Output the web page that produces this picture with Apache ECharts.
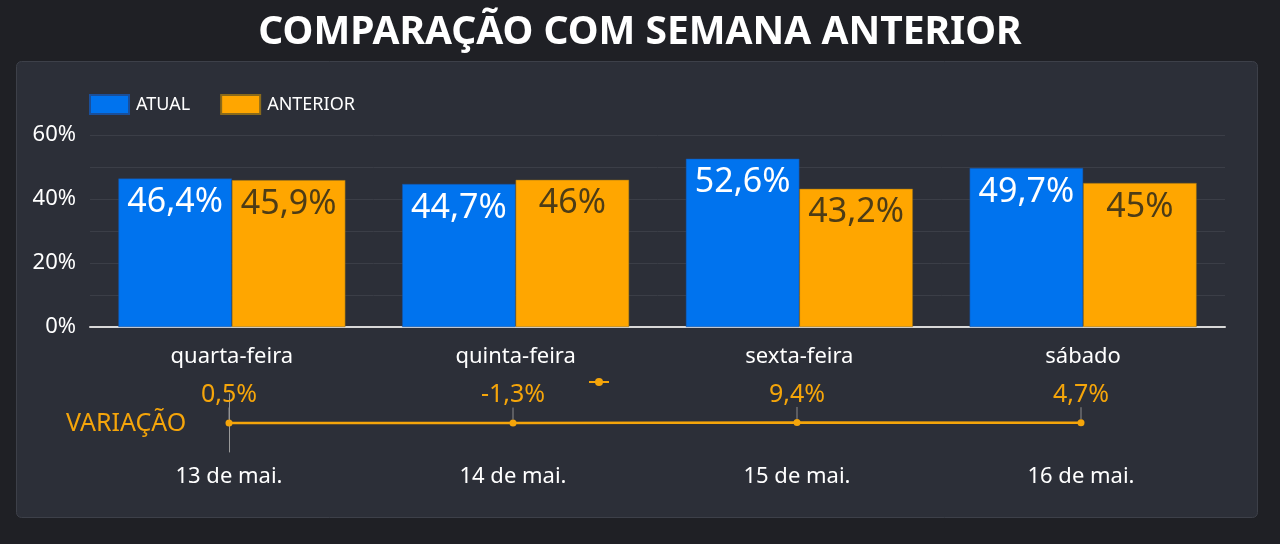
<!DOCTYPE html>
<html>
<head>
<meta charset="utf-8">
<script src="https://cdn.jsdelivr.net/npm/echarts@6/dist/echarts.min.js"></script>
<style>
  html, body { margin: 0; padding: 0; background: #1f2025; }
  #chart { width: 1280px; height: 544px; }
</style>
</head>
<body>
<div id="chart"></div>
<script>
var dias = ['quarta-feira', 'quinta-feira', 'sexta-feira', 'sábado'];
var datas = ['13 de mai.', '14 de mai.', '15 de mai.', '16 de mai.'];
var atual = [46.4, 44.7, 52.6, 49.7];
var anterior = [45.9, 46, 43.2, 45];
var variacao = [0.5, -1.3, 9.4, 4.7];

function pct(v) {
    return String(v).replace('.', ',') + '%';
}

var chart = echarts.init(document.getElementById('chart'));

var option = {
    backgroundColor: '#1f2025',
    textStyle: { fontFamily: 'Noto Sans' },
    graphic: [
        {
            type: 'rect',
            z: -10,
            shape: { x: 16.5, y: 61.5, width: 1241, height: 456, r: 5 },
            style: { fill: '#2c2f38', stroke: '#3d4049', lineWidth: 1 }
        }
    ],
    title: [
        {
            text: 'COMPARAÇÃO COM SEMANA ANTERIOR',
            left: 'center',
            top: 8,
            textStyle: { color: '#ffffff', fontSize: 39, fontWeight: 'bold', fontFamily: 'Noto Sans' }
        },
        {
            text: 'VARIAÇÃO',
            left: 61,
            top: 406,
            textStyle: { color: '#f5a50a', fontSize: 25, fontWeight: 'normal', fontFamily: 'Noto Sans' }
        }
    ],
    legend: [
        {
            data: ['ATUAL', 'ANTERIOR'],
            left: 84,
            top: 89,
            itemWidth: 39,
            itemHeight: 19,
            itemGap: 30,
            icon: 'rect',
            textStyle: { color: '#ffffff', fontSize: 18, padding: [0, 0, 0, 2] }
        },
        {
            data: ['VARIAÇÃO'],
            left: 583,
            top: 372,
            itemWidth: 20,
            itemHeight: 10,
            formatter: function () { return ''; },
            textStyle: { color: '#f5a50a' }
        }
    ],
    grid: [
        { left: 90, right: 55, top: 135, height: 192 },
        { left: 229, right: 199, top: 394, height: 58 }
    ],
    xAxis: [
        {
            type: 'category',
            gridIndex: 0,
            data: dias,
            axisLine: { lineStyle: { color: '#d8d8d8', width: 2 } },
            axisTick: { show: false },
            axisLabel: { color: '#ffffff', fontSize: 22, margin: 19 }
        },
        {
            type: 'category',
            gridIndex: 1,
            data: datas,
            boundaryGap: false,
            axisLine: { show: false },
            axisTick: { show: false },
            axisLabel: { color: '#ffffff', fontSize: 22, margin: 14 }
        }
    ],
    yAxis: [
        {
            type: 'value',
            gridIndex: 0,
            min: 0,
            max: 60,
            interval: 10,
            axisLine: { show: false },
            axisTick: { show: false },
            splitLine: { lineStyle: { color: '#3b3e47', width: 1 } },
            axisLabel: {
                color: '#ffffff',
                fontSize: 22,
                margin: 14,
                formatter: function (v) { return v % 20 === 0 ? v + '%' : ''; }
            }
        },
        {
            type: 'value',
            gridIndex: 1,
            min: -500,
            max: 500,
            axisLine: { show: true, lineStyle: { color: '#9a9a9a', width: 1 } },
            axisTick: { show: false },
            axisLabel: { show: false },
            splitLine: { show: false }
        }
    ],
    series: [
        {
            name: 'ATUAL',
            type: 'bar',
            xAxisIndex: 0,
            yAxisIndex: 0,
            data: atual,
            barGap: '0%',
            barCategoryGap: '20%',
            itemStyle: { color: '#0073ee', borderColor: '#1a4f9a', borderWidth: 0.5 },
            label: {
                show: true,
                position: 'insideTop',
                distance: 7,
                color: '#ffffff',
                fontSize: 34,
                formatter: function (p) { return pct(p.value); }
            }
        },
        {
            name: 'ANTERIOR',
            type: 'bar',
            xAxisIndex: 0,
            yAxisIndex: 0,
            data: anterior,
            itemStyle: { color: '#ffa600', borderColor: '#8a6a1a', borderWidth: 0.5 },
            label: {
                show: true,
                position: 'insideTop',
                distance: 7,
                color: '#4d3c16',
                fontSize: 34,
                formatter: function (p) { return pct(p.value); }
            }
        },
        {
            name: 'VARIAÇÃO',
            type: 'line',
            xAxisIndex: 1,
            yAxisIndex: 1,
            data: variacao,
            symbol: 'circle',
            symbolSize: 7,
            lineStyle: { color: '#f5a50a', width: 2.5 },
            itemStyle: { color: '#f5a50a' },
            label: {
                show: true,
                position: 'top',
                distance: 4,
                color: '#f5a50a',
                fontSize: 25,
                formatter: function (p) { return pct(p.value); }
            },
            labelLayout: { dy: -8 },
            labelLine: { show: true, lineStyle: { color: '#8c8c8c', width: 1 } }
        }
    ]
};

chart.setOption(option);
</script>
</body>
</html>
